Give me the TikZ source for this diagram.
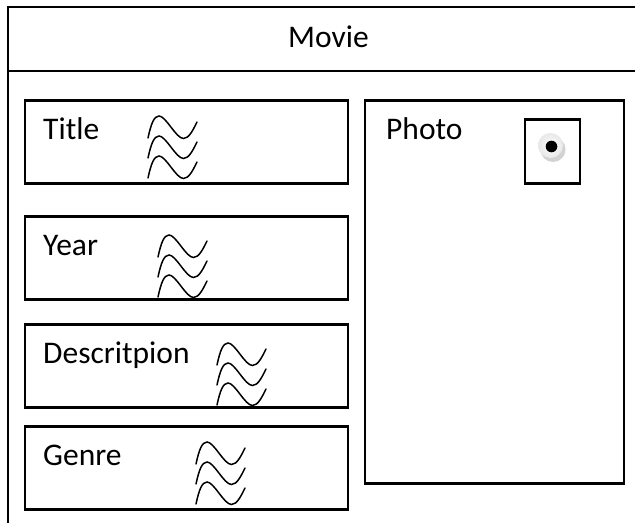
\documentclass[tikz,border=0pt]{standalone}
\usepackage{fontspec}
\setmainfont{Carlito}
\begin{document}
\begin{tikzpicture}[x=1bp,y=-1bp,
  frameline/.style={line width=2.8bp},
  box/.style={draw,line width=2.8bp,rectangle,anchor=north west,inner sep=0pt},
  iconbox/.style={draw,line width=2.2bp,rectangle,anchor=north west,inner sep=0pt},
  label/.style={anchor=base west,inner sep=0pt,font=\fontsize{31.5bp}{37bp}\selectfont},
  waveline/.style={line width=1.5bp,line cap=round},
  wave/.pic={
    \foreach \dy in {0,20,40}{
      \draw[waveline] (0,22+\dy) .. controls (3,8+\dy) and (6,0+\dy) .. (11,0+\dy)
        .. controls (18,0+\dy) and (28,22.5+\dy) .. (35.5,22.5+\dy)
        .. controls (41,22.5+\dy) and (45,14+\dy) .. (49,6+\dy);
    }
  }]
\useasboundingbox (0,0) rectangle (635,523);
% outer frame
\coordinate (tl) at (8,7);
\coordinate (tr) at (635,7);
\coordinate (bl) at (8,523);
\coordinate (ml) at (8,71);
\coordinate (mr) at (635,71);
\draw[frameline] (tr) -- (tl) -- (bl);
\draw[frameline] (ml) -- (mr);
\node[label] (movie) at (288,48) {Movie};
% left boxes
\node[box,minimum width=323bp,minimum height=83bp] (titlebox) at (23.5,99) {};
\node[box,minimum width=323bp,minimum height=83bp] (yearbox) at (23.5,215) {};
\node[box,minimum width=323bp,minimum height=83bp] (descbox) at (23.5,323) {};
\node[box,minimum width=323bp,minimum height=83bp] (genrebox) at (23.5,425) {};
\node[label] (title) at (43,140) {Title};
\node[label] (year) at (43,255) {Year};
\node[label] (desc) at (43,363) {Descritpion};
\node[label] (genre) at (43,465) {Genre};
\pic at (148,116) {wave};
\pic at (158,235) {wave};
\pic at (217,343) {wave};
\pic at (196,442) {wave};
% photo box
\node[box,minimum width=259bp,minimum height=383bp] (photobox) at (363.5,99) {};
\node[label] (photo) at (386,140) {Photo};
\node[iconbox,minimum width=55bp,minimum height=64bp] (iconbox) at (523.5,118.5) {};
\fill[gray!35] (553,149.5) circle (12.5);
\shade[inner color=white,outer color=gray!18] (550.5,145.5) circle (12.5);
\fill[black] (551.5,146.5) circle (5.8);
\end{tikzpicture}
\end{document}
